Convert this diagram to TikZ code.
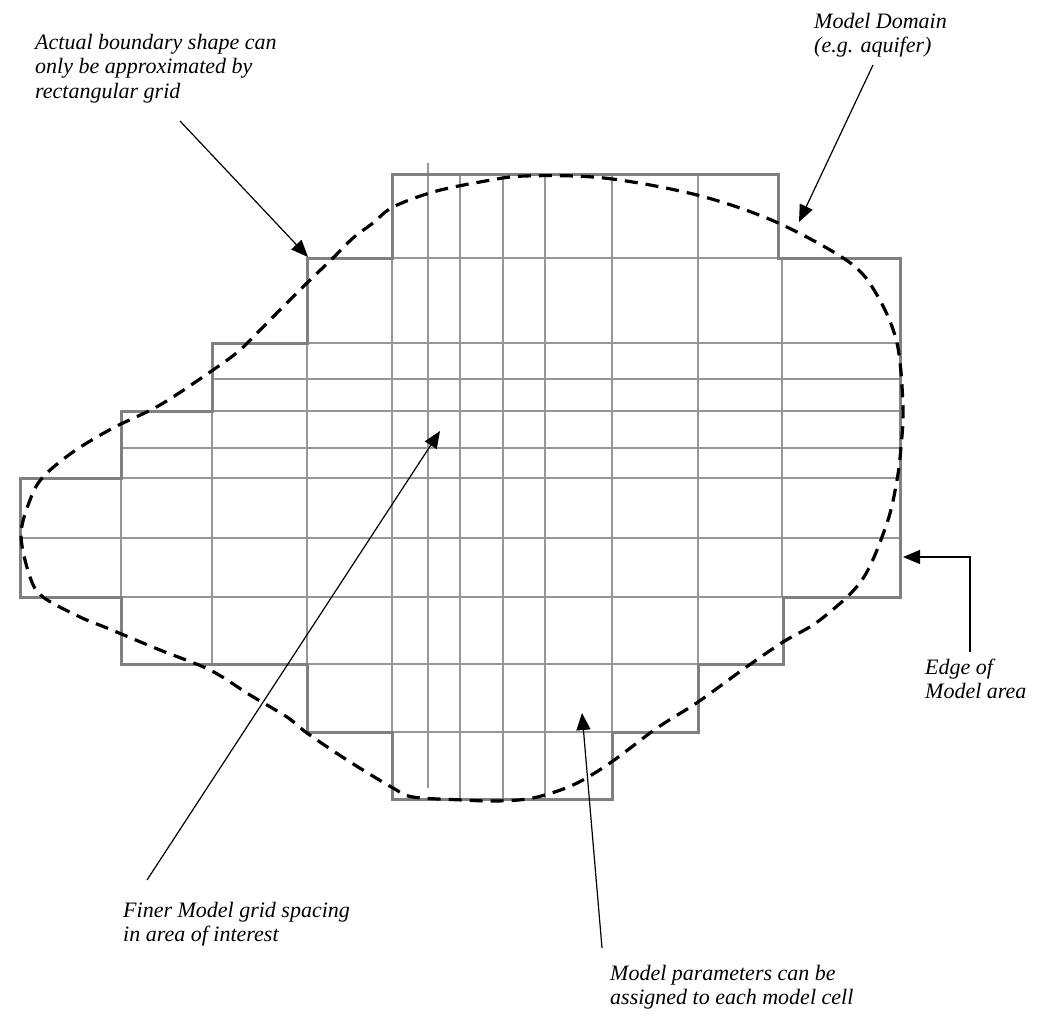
\documentclass[tikz,border=0pt]{standalone}
\usepackage{fontspec}
\setmainfont{Liberation Serif}
\usetikzlibrary{arrows.meta}
\tikzset{
  gridline/.style={draw={rgb,255:red,150;green,150;blue,150}, line width=1.6pt},
  outline/.style={draw={rgb,255:red,128;green,128;blue,128}, line width=3pt, line join=miter},
  aquiferline/.style={draw=black, line width=3.2pt, dash pattern=on 13pt off 8pt},
  callout/.style={draw=black, line width=1.2pt, -{Triangle[length=17pt,width=14pt]}},
  lbltext/.style={font=\fontsize{22pt}{24.5pt}\selectfont\itshape, align=left, anchor=north west, inner sep=0pt}
}
\begin{document}
\begin{tikzpicture}[x=1pt,y=-1pt]
\useasboundingbox (0,0) rectangle (1044,1017);
% interior grid lines
\foreach \y/\a/\b in {258/392/778,343/307/900,379/212/900,411/212/900,448/121/900,478/121/900,538/20/900,597/121/783,664/307/698,732/392/612}
  \draw[gridline] (\a,\y) -- (\b,\y);
\foreach \x/\a/\b in {121/478/597,212/411/664,307/343/664,392/258/732,428/163/788,460/174/799,503/174/799,545/174/799,612/174/732,698/174/664,782/258/597}
  \draw[gridline] (\x,\a) -- (\x,\b);
% model boundary
\draw[outline] (392,174) -- (778,174) -- (778,258) -- (900,258) -- (900,597) -- (783,597) -- (783,664) -- (698,664) -- (698,732) -- (612,732) -- (612,799) -- (392,799) -- (392,732) -- (307,732) -- (307,664) -- (121,664) -- (121,597) -- (20,597) -- (20,478) -- (121,478) -- (121,411) -- (212,411) -- (212,343) -- (307,343) -- (307,258) -- (392,258) -- cycle;
% aquifer outline
\draw[aquiferline] plot[smooth cycle, tension=0.55] coordinates {
 (525,176) (604,178) (697,195) (776,222) (849,262) (877,295) (897,343) (903,407) (901,447) (897,480) (887,523) (862,580) (820,620) (783,642) (745,668) (698,702) (657,728) (610,763) (573,785) (533,798) (497,801) (463,800) (413,797) (393,788) (347,760) (307,733) (287,717) (250,695) (210,670) (160,650) (107,628) (80,617) (43,597) (30,577) (21,535) (30,500) (43,477) (73,452) (113,428) (160,405) (213,370) (240,350) (267,323) (307,283) (333,258) (353,238) (373,223) (393,207) (433,192) (480,182)};
% labels
\node[lbltext] (actual) at (35,32) {\strut Actual boundary shape can\\only be approximated by\\rectangular grid};
\node[lbltext] (domainlbl) at (814,11) {\strut Model Domain\\(e.g. aquifer)};
\node[lbltext] (edge) at (925,657) {\strut Edge of\\Model area};
\node[lbltext] (finer) at (123,900) {\strut Finer Model grid spacing\\in area of interest};
\node[lbltext] (params) at (610,963) {\strut Model parameters can be\\assigned to each model cell};
% arrow ends
\coordinate (actualtail) at (180,121);
\coordinate (actualtip) at (308,257);
\coordinate (domaintail) at (873,65);
\coordinate (domaintip) at (799,222);
\coordinate (edgetail) at (970,652);
\coordinate (edgetip) at (903,557);
\coordinate (finertail) at (147,880);
\coordinate (finertip) at (440,431);
\coordinate (paramstail) at (602,948);
\coordinate (paramstip) at (582,713);
\draw[callout] (actualtail) -- (actualtip);
\draw[callout] (domaintail) -- (domaintip);
\draw[callout] (edgetail) |- (edgetip);
\draw[callout] (finertail) -- (finertip);
\draw[callout] (paramstail) -- (paramstip);
\end{tikzpicture}
\end{document}
